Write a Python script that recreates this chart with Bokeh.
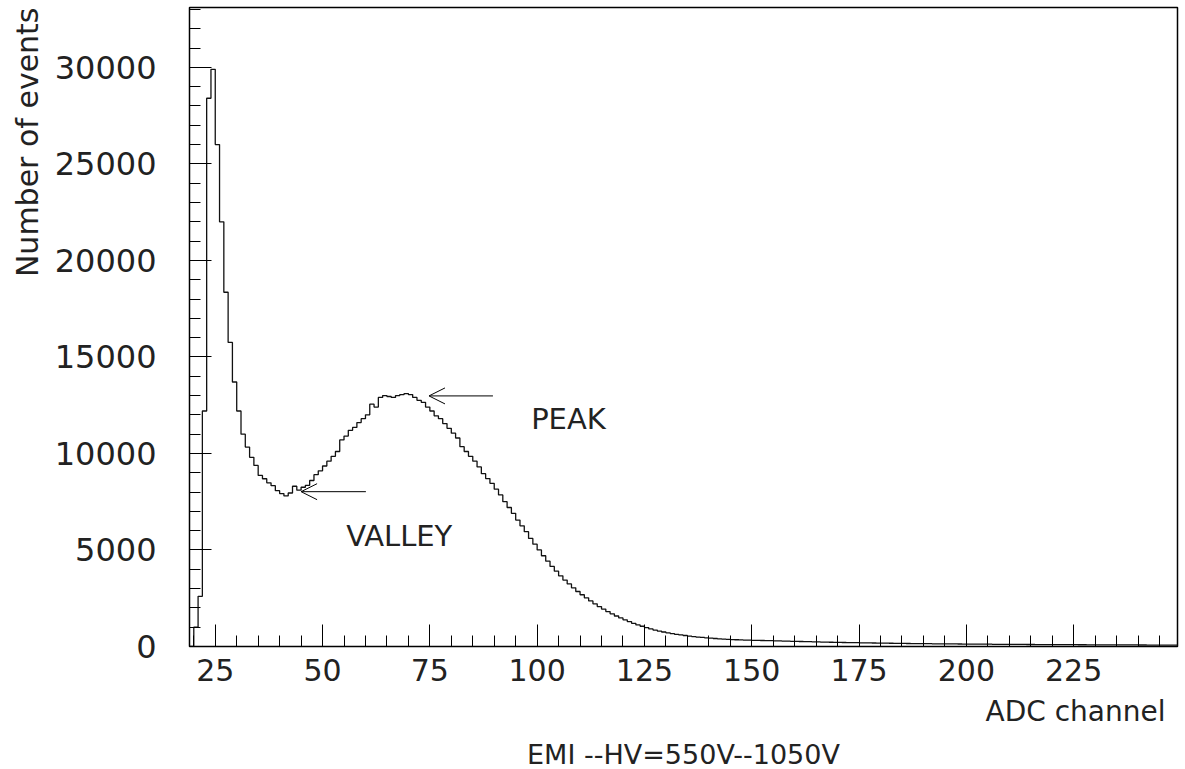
from bokeh.plotting import figure
from bokeh.models import Range1d, FixedTicker, Title, Arrow, OpenHead, Label
from bokeh.embed import file_html
from bokeh.resources import INLINE

# ---------------- data ----------------
bin_start = 19  # first ADC channel (bin width 1)
counts = [
    0, 1000, 2600, 12200, 28400, 29900, 26000, 22000, 18350, 15750,          # 19-28
    13700, 12200, 11000, 10330, 9800, 9380, 8860, 8690, 8480, 8330,          # 29-38
    8070, 7920, 7800, 7950, 8300, 8100, 8250, 8350, 8600, 8900,              # 39-48
    9100, 9350, 9600, 9850, 10100, 10700, 10900, 11200, 11350, 11600,        # 49-58
    11800, 12000, 12550, 12400, 12900, 13000, 12950, 12900, 13000, 13050,    # 59-68
    13100, 13050, 12900, 12750, 12650, 12400, 12200, 11950, 11800, 11550,    # 69-78
    11300, 11050, 10800, 10350, 10100, 9850, 9600, 9300, 8950, 8700,         # 79-88
    8450, 8150, 7850, 7500, 7200, 6900, 6550, 6250, 5950, 5600,              # 89-98
    5300, 5000, 4700, 4420, 4150, 3900, 3660, 3440, 3240, 3040,              # 99-108
    2850, 2680, 2520, 2360, 2210, 2070, 1940, 1810, 1690, 1580,              # 109-118
    1480, 1380, 1290, 1200, 1120, 1050, 980, 910, 850, 800,                  # 119-128
    750, 710, 670, 630, 600, 570, 540, 515, 490, 470,                        # 129-138
    450, 430, 415, 400, 385, 372, 360, 350, 342, 335,                        # 139-148
    328, 322, 320, 312, 306, 301, 292, 290, 281, 274,                        # 149-158
    270, 262, 258, 250, 248, 241, 236, 228, 226, 221,                        # 159-168
    216, 212, 207, 204, 199, 196, 192, 186, 185, 181,                        # 169-178
    178, 175, 171, 168, 167, 161, 160, 156, 154, 152,                        # 179-188
    149, 147, 145, 141, 140, 137, 136, 133, 132, 130,                        # 189-198
    127, 126, 124, 121, 121, 118, 118, 115, 115, 112,                        # 199-208
    112, 109, 109, 107, 106, 104, 104, 102, 101, 99,                         # 209-218
    99, 97, 97, 95, 95, 93, 93, 91, 91, 89,                                  # 219-228
    89, 87, 87, 85, 85, 83, 83, 81, 81, 79,                                  # 229-238
    79, 77, 77, 75, 75, 73, 73, 71, 71, 70, 69,                              # 239-249
]
edges = list(range(bin_start, bin_start + len(counts) + 1))

x_major_ticks = [25, 50, 75, 100, 125, 150, 175, 200, 225]
x_minor_ticks = list(range(20, 250, 5))
y_major_ticks = [0, 5000, 10000, 15000, 20000, 25000, 30000]
y_minor_ticks = list(range(0, 34000, 1000))

x_title = "ADC channel"
y_title = "Number of events"
caption = "EMI --HV=550V--1050V"

peak_text, peak_arrow = "PEAK", (89.7, 74.8, 12980)      # tail x, tip x, y
valley_text, valley_arrow = "VALLEY", (60.1, 45.0, 8020)
peak_label_pos = (98.6, 11800)
valley_label_pos = (55.5, 5740)

X0, X1 = 19, 249.2
# ---------------- figure ----------------
FONT = "DejaVu Sans"
TXT = "#222222"
p = figure(width=1185, height=769, output_backend="svg", toolbar_location=None,
           x_range=Range1d(X0, X1), y_range=Range1d(0, 33100),
           min_border_left=188, min_border_right=8, min_border_top=7,
           min_border_bottom=121)
p.grid.visible = False
p.background_fill_color = "white"
p.border_fill_color = "white"
p.outline_line_color = "black"
p.outline_line_width = 1.5

p.step(x=edges, y=counts + [counts[-1]], mode="after", line_color="#111111",
       line_width=1.3)

for ax, maj, mnr, standoff, fs in ((p.xaxis[0], x_major_ticks, x_minor_ticks, 12, "30px"),
                                   (p.yaxis[0], y_major_ticks, y_minor_ticks, 33, "32px")):
    ax.ticker = FixedTicker(ticks=maj, minor_ticks=mnr)
    ax.major_tick_in = 22
    ax.major_tick_out = 0
    ax.minor_tick_in = 11
    ax.minor_tick_out = 0
    ax.major_tick_line_color = "black"
    ax.minor_tick_line_color = "black"
    ax.axis_line_color = "black"
    ax.major_label_standoff = standoff
    ax.major_label_text_font = FONT
    ax.major_label_text_font_size = fs
    ax.major_label_text_color = TXT

p.add_layout(Title(text=y_title, align="right", text_font=FONT,
                   text_font_size="30px", text_font_style="normal",
                   text_color=TXT, standoff=14), "left")
p.add_layout(Title(text=x_title, align="right", offset=12, text_font=FONT,
                   text_font_size="28px", text_font_style="normal",
                   text_color=TXT, standoff=18), "below")
p.add_layout(Title(text=caption, align="center", text_font=FONT,
                   text_font_size="27px", text_font_style="normal",
                   text_color=TXT, standoff=0), "below")

for (xs, xe, y) in (peak_arrow, valley_arrow):
    p.add_layout(Arrow(end=OpenHead(size=16, line_width=1, line_color="black"),
                       x_start=xs, y_start=y, x_end=xe, y_end=y,
                       line_width=1, line_color="black"))

for txt, (lx, ly) in ((peak_text, peak_label_pos), (valley_text, valley_label_pos)):
    p.add_layout(Label(x=lx, y=ly, text=txt, text_font=FONT, text_font_size="29px",
                       text_color=TXT, text_baseline="alphabetic"))

open("out.html", "w").write(file_html(p, INLINE))
